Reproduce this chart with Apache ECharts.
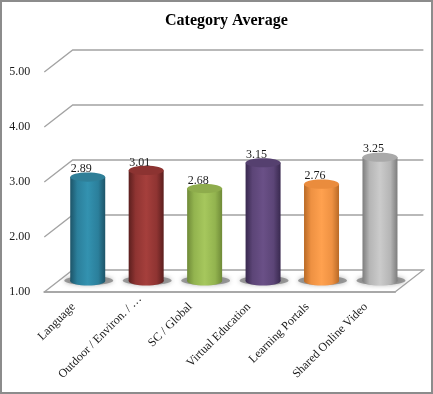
<!DOCTYPE html>
<html>
<head>
<meta charset="utf-8">
<title>Category Average</title>
<script src="https://cdn.jsdelivr.net/npm/echarts@6/dist/echarts.min.js"></script>
<style>
  html, body { margin: 0; padding: 0; background: #fff; }
  #chart { width: 433px; height: 394px; }
</style>
</head>
<body>
<div id="chart"></div>
<script>
const categories = ["Language", "Outdoor / Environ. / …", "SC / Global", "Virtual Education", "Learning Portals", "Shared Online Video"];
const averages = [2.89, 3.01, 2.68, 3.15, 2.76, 3.25];
const yTicks = [1, 2, 3, 4, 5];

// 원통 색상: 가장자리 / 중간 / 하이라이트 / 윗면
const barShades = [
  ["#1d5468", "#2b7f9b", "#3392b0", "#2f7f98"],
  ["#5c1f1e", "#8f3432", "#a53f3c", "#8c3331"],
  ["#6f8a38", "#93b44f", "#a6c75d", "#8eac4c"],
  ["#39294f", "#5c4577", "#6a5087", "#55406f"],
  ["#b96a26", "#ee9142", "#ffa14f", "#ea8c3d"],
  ["#7d7d7d", "#b5b5b5", "#cbcbcb", "#a9a9a9"]
];

// 바닥/벽의 깊이 (앞면 기준 뒤쪽으로 밀리는 픽셀)
const DEPTH_X = 28.4;
const DEPTH_Y = -22;
const BAR_RX = 17.5;
const BAR_RY = 4.6;
const GRID_COLOR = "#a3a3a3";

function hGradient(s) {
  return {
    type: "linear", x: 0, y: 0, x2: 1, y2: 0,
    colorStops: [
      { offset: 0, color: s[0] },
      { offset: 0.2, color: s[1] },
      { offset: 0.5, color: s[2] },
      { offset: 0.8, color: s[1] },
      { offset: 1, color: s[0] }
    ]
  };
}

/** 옆벽 + 뒷벽 눈금선. 값 1 은 바닥이므로 오른쪽 모서리까지 이어 그린다. */
function renderWallLine(params, api) {
  const v = api.value(0);
  const y = api.coord([0, v])[1];
  const left = params.coordSys.x;
  const right = left + params.coordSys.width;
  const pts = [[left, y], [left + DEPTH_X, y + DEPTH_Y], [right + DEPTH_X, y + DEPTH_Y]];
  if (v === yTicks[0]) pts.push([right, y]);
  return {
    type: "polyline",
    shape: { points: pts },
    style: { stroke: GRID_COLOR, lineWidth: 1.3, fill: null },
    silent: true
  };
}

/** 원통 막대: 그림자, 몸통, 밑면, 윗면, 값 라벨 */
function renderCylinder(params, api) {
  const idx = api.value(0);
  const val = api.value(1);
  const shades = barShades[idx];
  const base = api.coord([idx, yTicks[0]]);
  const top = api.coord([idx, val]);
  const cx = base[0] + DEPTH_X / 2;
  const by = base[1] + DEPTH_Y / 2;
  const ty = top[1] + DEPTH_Y / 2;
  const fill = hGradient(shades);
  return {
    type: "group",
    children: [
      {
        type: "ellipse",
        shape: { cx: cx + 1, cy: by - 0.5, rx: BAR_RX + 7, ry: BAR_RY },
        style: { fill: "rgba(120,120,120,0.7)", shadowBlur: 5, shadowColor: "rgba(120,120,120,0.8)" }
      },
      { type: "rect", shape: { x: cx - BAR_RX, y: ty, width: BAR_RX * 2, height: by - ty }, style: { fill } },
      { type: "ellipse", shape: { cx, cy: by, rx: BAR_RX, ry: BAR_RY }, style: { fill } },
      { type: "ellipse", shape: { cx, cy: ty, rx: BAR_RX, ry: BAR_RY }, style: { fill: shades[3] } },
      {
        type: "text",
        style: {
          x: cx - 6.5, y: ty - 8,
          text: api.value(1).toFixed(2),
          align: "center", verticalAlign: "middle",
          font: "12px 'Liberation Serif'", fill: "#1a1a1a"
        }
      }
    ]
  };
}

const chart = echarts.init(document.getElementById("chart"), null, { renderer: "canvas" });
chart.setOption({
  animation: false,
  backgroundColor: "#fff",
  textStyle: { fontFamily: "Liberation Serif" },
  graphic: [{
    type: "rect",
    shape: { x: 1, y: 1, width: 431, height: 392 },
    style: { fill: null, stroke: "#8c8c8c", lineWidth: 2 },
    silent: true
  }],
  title: {
    text: "Category Average",
    left: 160, top: 8,
    textStyle: { fontFamily: "Liberation Serif", fontSize: 16, fontWeight: "bold", color: "#000" }
  },
  // 앞면 기준 그리드: 값 축과 카테고리 축은 앞쪽 평면에 놓인다
  grid: { left: 44.3, top: 72, width: 350.7, height: 220 },
  xAxis: {
    type: "category",
    // 두 번째 라벨만 원본에서 오른쪽 위로 더 붙어 있어 패딩으로 옮긴다
    data: categories.map((name, i) => i === 1
      ? { value: name, textStyle: { align: "center", padding: [0, 90, 0, 0] } }
      : name),
    axisLine: { lineStyle: { color: "#a8a8a8", width: 2 } },
    axisTick: { show: false },
    axisLabel: { interval: 0, rotate: 45, margin: 13, fontFamily: "Liberation Serif", fontSize: 12, color: "#1a1a1a" }
  },
  yAxis: {
    type: "value",
    min: 1, max: 5, interval: 1,
    axisLine: { show: false },
    axisTick: { show: false },
    splitLine: { show: false },
    axisLabel: { margin: 14, padding: [6, 0, 0, 0], fontFamily: "Liberation Serif", fontSize: 12, color: "#1a1a1a", formatter: (v) => v.toFixed(2) }
  },
  series: [
    {
      type: "custom",
      name: "walls",
      renderItem: renderWallLine,
      data: yTicks.map((v) => [v]),
      encode: { y: 0 },
      z: 1,
      silent: true
    },
    {
      type: "custom",
      name: "Category Average",
      renderItem: renderCylinder,
      data: averages.map((v, i) => [i, v]),
      encode: { x: 0, y: 1 },
      z: 3,
      silent: true
    }
  ]
});
</script>
</body>
</html>
